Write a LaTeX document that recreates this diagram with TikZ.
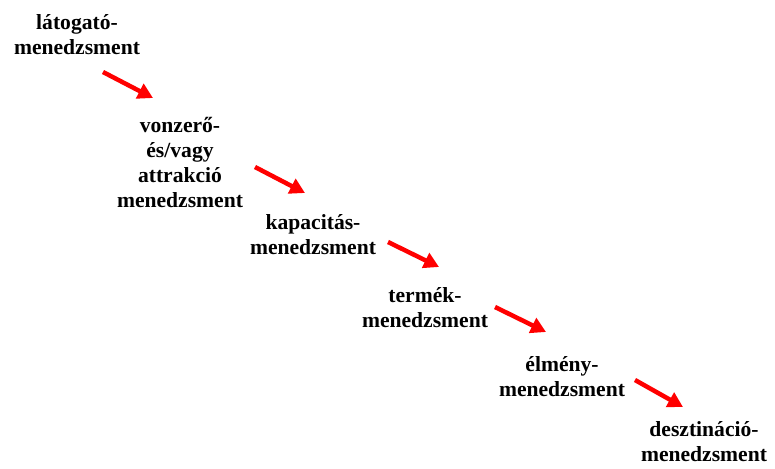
\documentclass[tikz,border=0pt]{standalone}
\usepackage{fontspec}
\setmainfont{Liberation Serif}
\usetikzlibrary{arrows.meta}
\begin{document}
\begin{tikzpicture}[x=1pt,y=-1pt,
  lbl/.style={align=center,anchor=base,inner sep=0pt,font=\bfseries\fontsize{21.6}{25}\selectfont},
  redarrow/.style={draw=red,line width=4.5pt,-{Triangle[width=16pt,length=15pt]},fill=red}]
\fill[white] (0,0) rectangle (775,468);
\useasboundingbox (0,0) rectangle (775,468);
\node[lbl] (l1) at (77,55) {látogató-\\menedzsment};
\node[lbl] (l2) at (180,207) {vonzerő-\\és/vagy\\attrakció\\menedzsment};
\node[lbl] (l3) at (313,254) {kapacitás-\\menedzsment};
\node[lbl] (l4) at (425,327) {termék-\\menedzsment};
\node[lbl] (l5) at (562,396) {élmény-\\menedzsment};
\node[lbl] (l6) at (704,461) {desztináció-\\menedzsment};
\coordinate (a1s) at (103,72);  \coordinate (a1e) at (153,98);
\coordinate (a2s) at (255,167); \coordinate (a2e) at (305,193);
\coordinate (a3s) at (388,242); \coordinate (a3e) at (439,267);
\coordinate (a4s) at (495,307); \coordinate (a4e) at (546,332);
\coordinate (a5s) at (635,380); \coordinate (a5e) at (683,407);
\draw[redarrow] (a1s) -- (a1e);
\draw[redarrow] (a2s) -- (a2e);
\draw[redarrow] (a3s) -- (a3e);
\draw[redarrow] (a4s) -- (a4e);
\draw[redarrow] (a5s) -- (a5e);
\end{tikzpicture}
\end{document}
